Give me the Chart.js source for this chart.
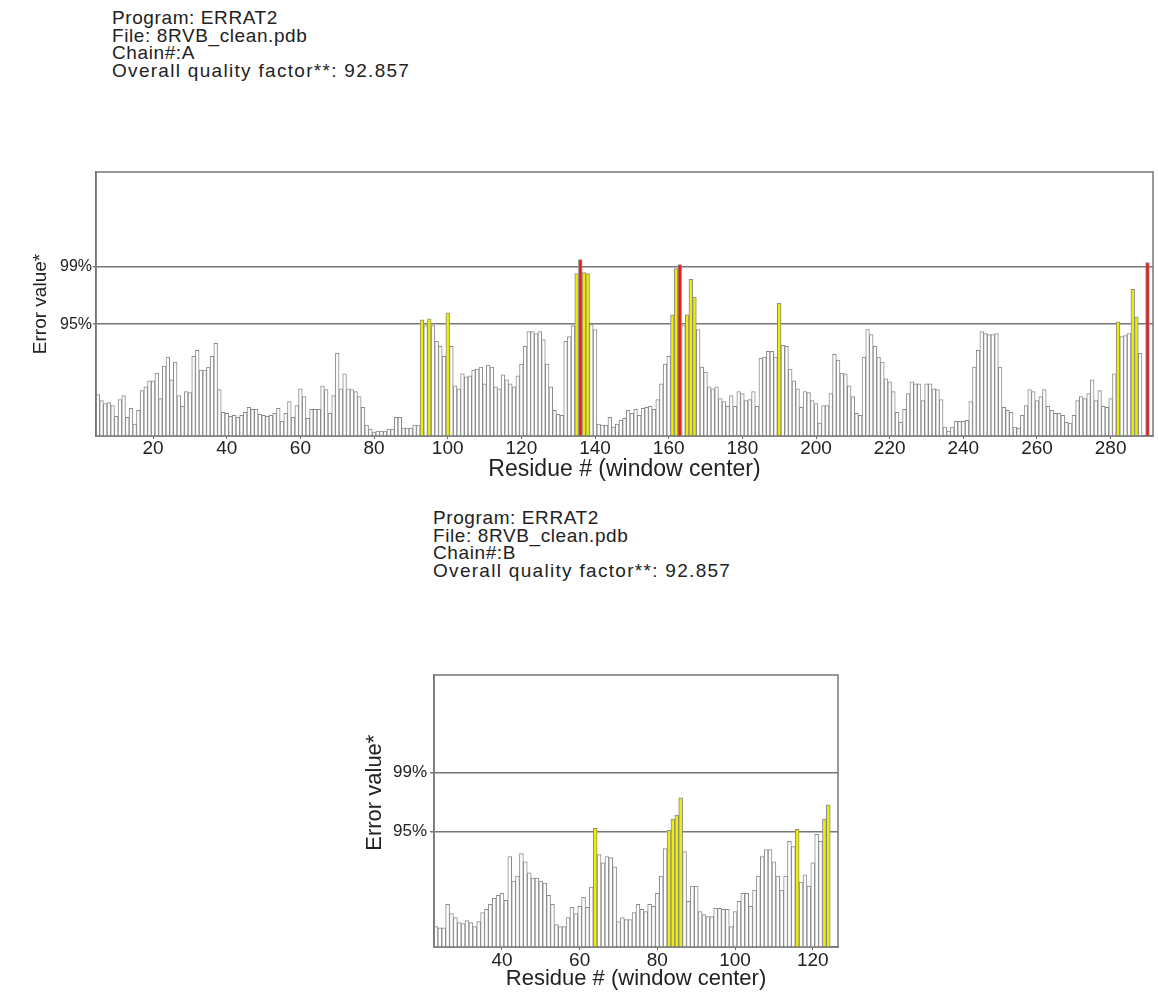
<!DOCTYPE html>
<html>
<head>
<meta charset="utf-8">
<script src="https://cdn.jsdelivr.net/npm/chart.js@4.4.1/dist/chart.umd.min.js"></script>
<style>
  body { margin: 0; background: #fff; width: 1158px; height: 996px; overflow: hidden; position: relative;
         font-family: "Liberation Sans", Arial, sans-serif; }
  .hdr { position: absolute; font-size: 19px; line-height: 17.7px; letter-spacing: 0.6px; color: #222; }
  .hdr div { white-space: pre; }
  .hdr .wide { letter-spacing: 1.3px; }
  canvas { position: absolute; }
</style>
</head>
<body>
<div class="hdr" style="left:112px; top:9px">
  <div>Program: ERRAT2</div>
  <div>File: 8RVB_clean.pdb</div>
  <div>Chain#:A</div>
  <div class="wide">Overall quality factor**: 92.857</div>
</div>
<div class="hdr" style="left:433px; top:509px">
  <div>Program: ERRAT2</div>
  <div>File: 8RVB_clean.pdb</div>
  <div>Chain#:B</div>
  <div class="wide">Overall quality factor**: 92.857</div>
</div>
<canvas id="chainA" width="1158" height="340" style="left:0; top:150px"></canvas>
<canvas id="chainB" width="520" height="346" style="left:330px; top:650px"></canvas>
<script>
// error value per window center, chain A residues 5..290 (axis runs to 291)
const firstResA = 5, lastResA = 291;
const errorA = [
  4.2, 3.6, 3.3, 3.4, 3.1, 2.0, 3.7, 4.1, 1.9, 2.8,
  1.2, 2.6, 4.6, 5.0, 5.6, 5.6, 6.4, 3.8, 7.1, 8.0,
  5.7, 7.5, 4.1, 3.0, 4.5, 4.4, 8.1, 8.7, 6.7, 6.7,
  7.0, 8.1, 9.4, 4.7, 2.4, 2.3, 2.0, 2.1, 1.9, 2.1,
  2.4, 2.9, 2.7, 2.7, 2.2, 2.1, 2.0, 2.1, 2.3, 2.8,
  1.5, 2.3, 3.5, 1.9, 3.1, 4.8, 4.0, 1.8, 2.7, 2.7,
  2.7, 5.1, 4.7, 2.3, 4.1, 8.4, 4.8, 6.3, 4.8, 4.7,
  4.5, 4.0, 2.9, 1.1, 0.7, 0.4, 0.5, 0.5, 0.5, 0.7,
  0.7, 1.9, 1.9, 0.8, 0.8, 0.8, 1.1, 1.1, 11.8, 11.2,
  11.9, 11.2, 9.6, 9.1, 8.1, 12.5, 9.1, 5.1, 4.8, 6.3,
  6.0, 6.1, 6.7, 6.8, 7.0, 5.3, 7.2, 7.0, 5.0, 4.8,
  6.2, 5.7, 5.3, 5.0, 6.1, 7.3, 9.1, 10.6, 10.6, 10.4,
  10.6, 9.8, 7.3, 5.0, 2.6, 2.2, 2.1, 9.6, 10.1, 11.2,
  16.5, 17.9, 16.6, 16.5, 11.3, 10.8, 1.2, 1.1, 1.1, 1.9,
  0.9, 1.2, 1.6, 1.8, 2.6, 2.3, 2.7, 2.1, 2.8, 2.9,
  3.0, 2.7, 3.7, 5.3, 7.3, 8.1, 12.3, 17.0, 17.4, 11.2,
  12.3, 15.9, 14.1, 10.8, 7.0, 6.5, 5.0, 4.8, 5.0, 3.8,
  3.5, 3.0, 4.1, 3.0, 4.5, 4.3, 3.6, 3.7, 4.5, 3.0,
  7.9, 8.0, 8.6, 8.6, 8.0, 13.5, 9.2, 9.1, 6.8, 5.6,
  4.8, 2.9, 4.5, 4.4, 3.6, 3.3, 1.3, 3.1, 3.1, 4.3,
  8.3, 7.7, 6.4, 6.3, 5.1, 4.0, 2.3, 2.1, 8.0, 10.8,
  10.3, 9.1, 8.0, 7.5, 5.8, 5.5, 4.5, 2.4, 1.4, 2.7,
  4.3, 5.5, 5.3, 5.3, 3.6, 5.3, 5.3, 4.8, 4.7, 3.7,
  0.9, 0.5, 0.9, 1.5, 1.5, 1.5, 1.6, 3.5, 7.0, 8.7,
  10.6, 10.4, 10.3, 10.3, 10.4, 7.0, 2.9, 2.6, 2.4, 0.9,
  0.8, 2.1, 3.1, 4.7, 4.5, 3.6, 4.0, 4.7, 3.0, 2.6,
  2.3, 2.3, 2.1, 1.4, 1.3, 2.1, 3.6, 4.0, 3.8, 4.3,
  5.7, 3.6, 4.6, 3.0, 2.9, 3.8, 6.3, 11.6, 10.1, 10.2,
  10.4, 14.9, 12.1, 8.4, 0, 17.6
];

// chain B residues 23..124 (axis runs to 126)
const firstResB = 23, lastResB = 126;
const errorB = [
  2.0, 1.9, 1.9, 4.2, 3.3, 2.9, 2.4, 2.3, 2.6, 2.4,
  2.0, 2.5, 3.4, 3.7, 4.2, 4.8, 5.1, 5.3, 4.6, 8.9,
  6.5, 7.0, 9.2, 8.4, 7.3, 6.8, 6.8, 6.5, 6.3, 5.1,
  4.2, 2.2, 2.0, 2.0, 2.9, 3.9, 3.3, 4.0, 4.9, 3.9,
  5.9, 11.7, 9.1, 8.3, 8.9, 8.8, 7.9, 2.5, 2.9, 2.7,
  2.7, 3.4, 4.2, 3.7, 3.5, 4.2, 4.0, 5.3, 7.0, 9.7,
  11.5, 12.6, 13.0, 14.7, 9.4, 4.5, 6.0, 6.0, 3.5, 3.2,
  3.0, 3.0, 3.8, 3.8, 3.7, 3.7, 2.0, 3.5, 4.5, 5.3,
  5.3, 4.0, 5.6, 7.0, 8.9, 9.6, 9.6, 8.4, 7.0, 5.6,
  7.0, 10.4, 9.9, 11.6, 6.4, 7.1, 6.0, 8.3, 11.1, 10.4,
  12.6, 14.0
];

// 95% and 99% rejection limits
const limits = [11.36, 17.19];
const limitLabels = ['95%', '99%'];
const xTickStep = 20;

function range(a, b) {
  const out = [];
  for (let i = a; i <= b; i++) out.push(i);
  return out;
}

function barFill(v) {
  if (v > limits[1]) return '#ee1b1b';
  if (v > limits[0]) return '#eeee00';
  return '#ffffff';
}

const framePlugin = {
  id: 'frame',
  afterDraw(chart) {
    const a = chart.chartArea;
    const ctx = chart.ctx;
    ctx.save();
    ctx.strokeStyle = '#777';
    ctx.lineWidth = 1.5;
    ctx.strokeRect(a.left, a.top, a.right - a.left, a.bottom - a.top);
    ctx.restore();
  }
};

function makeChart(id, first, last, values, s) {
  const labels = range(first, last);
  new Chart(document.getElementById(id), {
    type: 'bar',
    data: {
      labels: labels,
      datasets: [{
        data: values,
        backgroundColor: values.map(barFill),
        borderColor: '#8a8a8a',
        borderWidth: 1,
        barPercentage: 1,
        categoryPercentage: 1
      }]
    },
    options: {
      responsive: false,
      animation: false,
      layout: { padding: s.padding },
      plugins: { legend: { display: false }, tooltip: { enabled: false } },
      scales: {
        x: {
          type: 'category',
          offset: true,
          grid: {
            drawOnChartArea: false,
            offset: false,
            tickLength: 3,
            color: c => (labels[c.index] % xTickStep === 0 ? '#666' : 'rgba(0,0,0,0)')
          },
          border: { color: '#777', width: 1.5 },
          ticks: {
            autoSkip: false,
            maxRotation: 0,
            minRotation: 0,
            padding: s.xPad,
            color: '#222',
            font: { family: 'Liberation Sans', size: 19, lineHeight: 1 },
            callback: (v, i) => (labels[i] % xTickStep === 0 ? String(labels[i]) : '')
          },
          title: {
            display: true,
            text: 'Residue # (window center)',
            color: '#222',
            font: { family: 'Liberation Sans', size: s.xTitleSize },
            padding: { top: 0, bottom: s.xTitlePad }
          },
          afterFit: sc => { sc.height = s.xHeight; }
        },
        y: {
          min: 0,
          max: 26.8,
          afterBuildTicks: sc => { sc.ticks = limits.map(v => ({ value: v })); },
          grid: { color: '#777', lineWidth: 1.5, tickLength: s.yTick },
          border: { color: '#777', width: 1.5 },
          ticks: {
            padding: s.yPad,
            color: '#222',
            font: { family: 'Liberation Sans', size: s.yTickSize },
            callback: v => limitLabels[limits.indexOf(v)]
          },
          title: {
            display: true,
            text: s.yTitle,
            color: '#222',
            font: { family: 'Liberation Sans', size: s.yTitleSize },
            padding: { top: s.yTitlePad, bottom: 0 }
          },
          afterFit: sc => { sc.width = s.yWidth; }
        }
      }
    },
    plugins: [framePlugin]
  });
}

makeChart('chainA', firstResA, lastResA, errorA, {
  padding: { top: 22, right: 5, left: 0, bottom: 0 },
  xHeight: 54, xPad: 0, xTitleSize: 23, xTitlePad: 7,
  yWidth: 96, yTick: 3, yPad: 1, yTickSize: 16,
  yTitle: 'Error value*', yTitleSize: 19, yTitlePad: 29
});

// leading spaces lift the rotated title to where the reference has it
makeChart('chainB', firstResB, lastResB, errorB, {
  padding: { top: 25, right: 12, left: 0, bottom: 0 },
  xHeight: 49, xPad: 1, xTitleSize: 22, xTitlePad: 4,
  yWidth: 104, yTick: 4, yPad: 3, yTickSize: 17,
  yTitle: '\u00a0\u00a0\u00a0\u00a0\u00a0\u00a0Error value*', yTitleSize: 22, yTitlePad: 32
});
</script>
</body>
</html>
